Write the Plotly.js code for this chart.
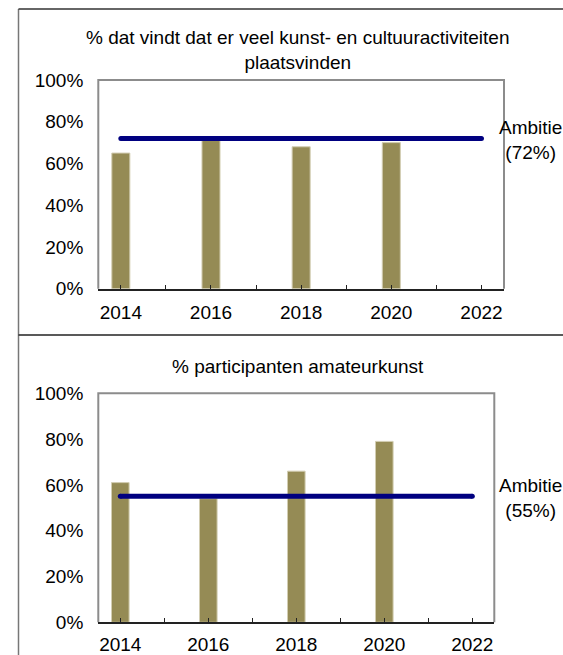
<!DOCTYPE html>
<html>
<head>
<meta charset="utf-8">
<script src="https://cdn.plot.ly/plotly-3.0.1.min.js"></script>
<style>html,body{margin:0;padding:0;background:#fff;}#chart{width:563px;height:655px;}</style>
</head>
<body>
<div id="chart"></div>
<script>
// Data
const years = [2014, 2016, 2018, 2020];
const cultuurValues = [65, 71, 68, 70];
const amateurValues = [61, 54, 66, 79];
const ambitieYears = [2014, 2022];
const cultuurAmbitie = 72;
const amateurAmbitie = 55;
const tickYears = [2014, 2015, 2016, 2017, 2018, 2019, 2020, 2021, 2022];
const tickLabels = ['2014', '', '2016', '', '2018', '', '2020', '', '2022'];
const titleTop = '% dat vindt dat er veel kunst- en cultuuractiviteiten<br>plaatsvinden';
const titleBottom = '% participanten amateurkunst';

const W = 563, H = 655;
const px = v => v / W;
const py = v => 1 - v / H;

const barColor = '#958B55';
const lineColor = '#000080';
const font = {family: '"Liberation Sans", Arial, sans-serif', size: 19, color: '#000'};

function bars(x, y, xa, ya) {
  return {type: 'bar', x: x, y: y, xaxis: xa, yaxis: ya, width: 0.4,
    marker: {color: barColor, line: {color: '#d2cdb2', width: 1}},
    hoverinfo: 'skip', showlegend: false};
}
function ambLine(val, xa, ya) {
  return {type: 'scatter', mode: 'lines+markers', x: ambitieYears, y: ambitieYears.map(() => val),
    xaxis: xa, yaxis: ya, line: {color: lineColor, width: 5},
    marker: {color: lineColor, size: 5, line: {width: 0}},
    hoverinfo: 'skip', showlegend: false};
}

const data = [
  bars(years, cultuurValues, 'x', 'y'),
  ambLine(cultuurAmbitie, 'x', 'y'),
  bars(years, amateurValues, 'x2', 'y2'),
  ambLine(amateurAmbitie, 'x2', 'y2')
];

function xaxis(domain, anchor, standoff) {
  return {domain: domain, anchor: anchor, range: [2013.5, 2022.5], tickmode: 'array',
    tickvals: tickYears, ticktext: tickLabels, ticks: 'inside', ticklen: 4, tickwidth: 1,
    tickcolor: '#222', showline: true, linecolor: '#222', linewidth: 2, showgrid: false,
    zeroline: false, tickfont: font, ticklabelstandoff: standoff, fixedrange: true};
}
function yaxis(domain, anchor) {
  return {domain: domain, anchor: anchor, range: [0, 100], tickmode: 'linear', tick0: 0, dtick: 20,
    ticksuffix: '%', ticks: '', showline: false, showgrid: false, zeroline: false,
    tickfont: font, ticklabelstandoff: 14, fixedrange: true};
}

const layout = {
  width: W, height: H,
  margin: {l: 0, r: 0, t: 0, b: 0},
  paper_bgcolor: '#fff', plot_bgcolor: '#fff',
  font: font,
  xaxis: xaxis([px(98.3), px(504)], 'y', 5),
  yaxis: yaxis([py(288.7), py(80)], 'x'),
  xaxis2: xaxis([px(98.3), px(494.3)], 'y2', 4),
  yaxis2: yaxis([py(622.3), py(393.3)], 'x2'),
  shapes: [
    {type: 'path', xref: 'x domain', yref: 'y domain', path: 'M0,0 L0,1 L1,1 L1,0',
      line: {color: '#8c8c8c', width: 2}, layer: 'below'},
    {type: 'path', xref: 'x2 domain', yref: 'y2 domain', path: 'M0,0 L0,1 L1,1 L1,0',
      line: {color: '#8c8c8c', width: 2}, layer: 'below'},
    {type: 'line', xref: 'paper', yref: 'paper', x0: px(18.5), x1: px(18.5), y0: 0, y1: py(9),
      line: {color: '#777', width: 1.5}},
    {type: 'line', xref: 'paper', yref: 'paper', x0: px(18.5), x1: 1, y0: py(9), y1: py(9),
      line: {color: '#333', width: 1.5}},
    {type: 'line', xref: 'paper', yref: 'paper', x0: px(18.5), x1: 1, y0: py(335), y1: py(335),
      line: {color: '#222', width: 1.5}}
  ],
  annotations: [
    {text: titleTop, xref: 'paper', yref: 'paper', x: px(297.5), y: py(50.5),
      xanchor: 'center', yanchor: 'middle', showarrow: false, font: font, align: 'center'},
    {text: titleBottom, xref: 'paper', yref: 'paper', x: px(297.5), y: py(366.7),
      xanchor: 'center', yanchor: 'middle', showarrow: false, font: font},
    {text: 'Ambitie<br>(' + cultuurAmbitie + '%)', xref: 'paper', yref: 'paper', x: px(530), y: py(140),
      xanchor: 'center', yanchor: 'middle', showarrow: false, font: font, align: 'center'},
    {text: 'Ambitie<br>(' + amateurAmbitie + '%)', xref: 'paper', yref: 'paper', x: px(530), y: py(498),
      xanchor: 'center', yanchor: 'middle', showarrow: false, font: font, align: 'center'}
  ]
};

Plotly.newPlot('chart', data, layout, {displayModeBar: false, staticPlot: true});
</script>
</body>
</html>
